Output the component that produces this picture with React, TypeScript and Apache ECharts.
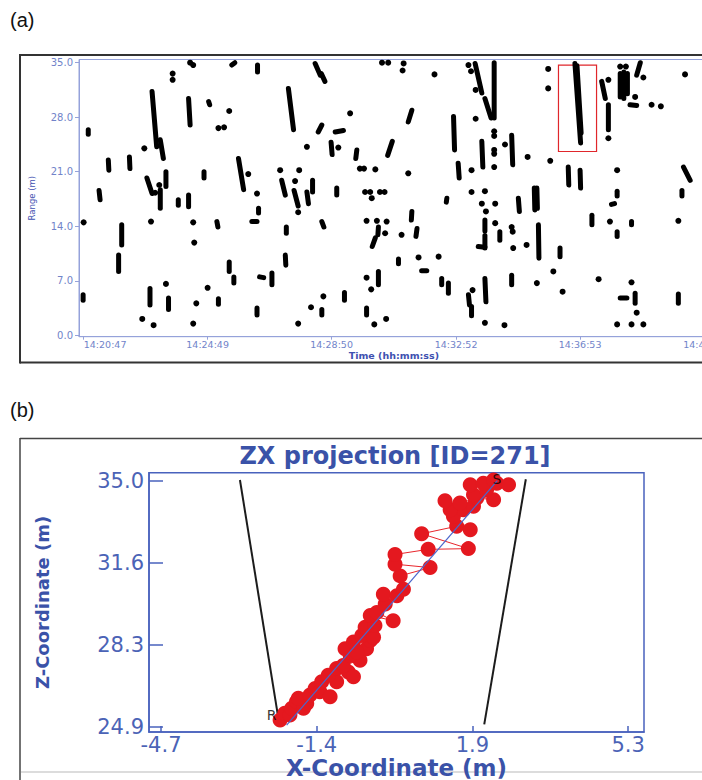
import React, { useEffect, useRef } from 'react';
import * as echarts from 'echarts';

// ---------- (a) Range vs time ----------
const timeTickValues = [0, 242, 483, 725, 966, 1208]; // seconds after 14:20:47
const timeTickLabels = ['14:20:47', '14:24:49', '14:28:50', '14:32:52', '14:36:53', '14:40:55'];
const rangeTickValues = [0, 7, 14, 21, 28, 35];

// streaks: [t1 (s), range1 (m), t2 (s), range2 (m)]
const streaks: number[][] = [
  [0, 5.2, 0, 4.5], [10, 26.4, 10, 25.8], [31, 18.6, 33, 17.4], [49, 22.5, 50, 21.2],
  [75, 14.2, 75, 11.6], [69, 10.3, 69, 8.2], [90, 22.9, 91, 21.4], [130, 6.0, 130, 3.9],
  [124, 20.2, 134, 18.2], [134, 31.3, 143, 24.2], [150, 25.1, 156, 22.7], [150, 18.7, 150, 16.3],
  [161, 21.0, 161, 19.1], [166, 4.8, 166, 3.3], [185, 17.4, 185, 16.7], [205, 18.0, 205, 16.5],
  [205, 30.4, 208, 27.0], [235, 21.0, 235, 20.2], [244, 30.0, 246, 29.6], [260, 14.6, 262, 13.9],
  [263, 4.7, 263, 4.0], [284, 9.4, 284, 8.2], [293, 7.5, 293, 6.7], [302, 22.7, 312, 18.7],
  [339, 34.7, 339, 33.8], [451, 34.9, 461, 33.4], [463, 33.6, 470, 32.6], [399, 31.7, 409, 26.4],
  [464, 27.0, 457, 26.1], [490, 26.1, 506, 26.3], [482, 24.8, 484, 23.2], [532, 23.8, 530, 22.7],
  [601, 24.9, 592, 23.1], [386, 19.9, 393, 18.0], [410, 18.6, 418, 16.6], [435, 18.4, 438, 16.9],
  [446, 19.9, 446, 18.4], [493, 18.9, 493, 18.0], [341, 16.3, 341, 15.7], [328, 14.6, 338, 14.6],
  [395, 13.9, 395, 13.1], [464, 14.6, 468, 13.9], [574, 13.9, 573, 12.9], [568, 12.5, 562, 11.4],
  [393, 10.3, 394, 9.0], [343, 7.5, 351, 7.4], [367, 8.0, 367, 6.5], [574, 8.2, 574, 6.5],
  [508, 5.5, 508, 4.5], [464, 3.3, 464, 2.6], [338, 3.5, 338, 2.6], [551, 3.5, 551, 2.6],
  [762, 34.9, 775, 31.1], [781, 30.4, 793, 27.9], [799, 35.0, 799, 27.9], [639, 28.9, 632, 27.4],
  [720, 28.1, 722, 23.8], [775, 24.9, 777, 21.6], [833, 25.7, 835, 21.9], [729, 22.1, 731, 20.2],
  [707, 17.6, 706, 17.1], [846, 17.6, 848, 15.9], [877, 18.9, 878, 16.1], [882, 18.9, 883, 16.3],
  [639, 15.9, 638, 14.8], [649, 13.7, 647, 12.7], [781, 14.8, 781, 13.4], [781, 12.8, 781, 11.2],
  [810, 13.3, 810, 12.2], [768, 11.4, 781, 11.3], [885, 14.2, 886, 9.9], [613, 9.8, 613, 9.2],
  [658, 8.3, 668, 8.3], [697, 7.3, 697, 6.5], [710, 6.7, 710, 5.4], [781, 7.3, 783, 4.3],
  [833, 7.7, 833, 6.5], [749, 5.2, 751, 3.9], [755, 3.7, 755, 2.5], [956, 34.9, 967, 24.7],
  [960, 34.6, 968, 26.0], [1008, 32.6, 1015, 30.4], [1021, 29.6, 1021, 26.4], [1044, 33.6, 1044, 30.6],
  [1051, 33.8, 1051, 30.4], [1058, 33.6, 1058, 31.0], [1083, 35.0, 1076, 33.4], [1063, 29.6, 1076, 29.5],
  [943, 21.6, 944, 19.3], [966, 21.2, 967, 18.9], [1167, 21.6, 1180, 19.9], [1164, 18.6, 1164, 17.9],
  [1027, 16.8, 1033, 16.9], [989, 15.4, 989, 14.2], [1066, 14.6, 1066, 14.2], [1038, 13.3, 1038, 12.7],
  [927, 11.2, 927, 10.1], [1044, 4.8, 1057, 4.8], [1073, 5.4, 1073, 4.1], [1157, 5.3, 1157, 4.1],
  [1038, 18.5, 1038, 17.9], [289, 34.7, 295, 35.0],
];

// isolated detections: [t (s), range (m)]
const dots: number[][] = [
  [1, 14.5], [115, 2.1], [119, 24.0], [140, 18.3], [132, 14.6], [137, 1.3], [148, 19.3], [161, 6.6],
  [174, 33.6], [174, 32.8], [208, 35.0], [214, 34.7], [214, 14.5], [216, 11.9], [220, 4.1], [214, 1.5],
  [242, 6.1], [263, 26.6], [274, 26.7], [284, 28.8], [321, 20.7], [519, 28.5], [435, 24.2],
  [496, 24.1], [383, 21.2], [420, 21.2], [538, 21.4], [546, 21.4], [568, 21.3], [338, 18.2], [412, 19.8],
  [548, 18.4], [558, 18.4], [577, 18.4], [586, 18.4], [561, 17.6], [418, 15.8], [551, 14.7], [571, 14.7],
  [590, 14.6], [587, 13.1], [551, 7.4], [560, 5.9], [467, 5.0], [443, 3.6], [418, 1.5], [566, 1.4],
  [589, 2.1], [581, 35.0], [593, 35.0], [623, 34.9], [621, 34.0], [683, 33.5], [749, 34.7], [754, 33.9],
  [763, 31.5], [799, 26.2], [799, 25.6], [799, 23.8], [799, 23.3], [799, 21.6], [763, 27.8], [820, 24.5],
  [864, 22.9], [632, 20.8], [755, 21.2], [755, 18.4], [781, 18.5], [775, 16.9], [801, 16.9], [783, 15.9],
  [619, 12.9], [801, 14.4], [833, 13.9], [835, 13.3], [836, 11.2], [862, 11.6], [652, 10.0], [691, 10.1],
  [882, 6.7], [757, 5.8], [781, 1.6], [819, 1.3], [904, 34.2], [904, 31.7], [1021, 32.8], [1021, 25.3],
  [1044, 34.5], [1055, 34.5], [1089, 33.1], [1073, 30.6], [1105, 29.6], [1123, 29.4], [1170, 33.5],
  [908, 22.4], [1038, 21.2], [1024, 14.6], [1157, 14.7], [914, 8.2], [1002, 7.2], [1066, 6.8], [932, 5.6],
  [1076, 2.9], [1038, 1.4], [1066, 1.4], [1089, 1.4],
];

// highlighted track box: [t, range] corners
const boxStart = [924, 34.7];
const boxEnd = [998, 23.6];

// ---------- (b) ZX projection ----------
const xTickValues = [-4.7, -1.367, 1.967, 5.3];
const xTickLabels = ['-4.7', '-1.4', '1.9', '5.3'];
const zTickValues = [24.9, 28.267, 31.633, 35.0];
const zTickLabels = ['24.9', '28.3', '31.6', '35.0'];

const trackX = [
  -2.15, -2.05, -1.94, -1.90, -1.80, -1.58, -1.65, -1.76, -1.51, -1.40, -1.30, -1.08, -1.26, -0.94,
  -1.12, -0.94, -0.69, -0.58, -0.80, -0.44, -0.65, -0.76, -0.30, -0.51, -0.58, -0.22, -0.40, -0.15,
  -0.33, -0.12, -0.22, 0.27, -0.08, 0.10, 0.06, 0.35, 0.49, 0.42, 1.06, 0.31, 0.31, 1.02, 1.88, 0.88,
  1.63, 1.92, 1.56, 1.77, 1.49, 1.38, 1.99, 1.70, 2.06, 2.42, 1.99, 2.27, 1.92, 2.20, 2.49, 2.74, 2.42,
];
const trackZ = [
  25.17, 25.44, 25.37, 25.65, 25.92, 25.85, 25.65, 26.06, 26.19, 26.46, 26.33, 26.12, 26.74, 26.74,
  27.01, 27.28, 27.14, 26.94, 27.41, 27.62, 27.82, 28.10, 28.10, 27.96, 28.37, 28.43, 28.64, 28.57,
  28.98, 29.05, 29.46, 29.25, 29.59, 29.93, 30.34, 30.27, 30.54, 31.09, 31.43, 31.57, 31.97, 32.18,
  32.21, 32.82, 33.13, 32.99, 33.54, 33.81, 33.81, 34.18, 33.95, 34.08, 34.29, 34.22, 34.42, 34.63,
  34.83, 34.90, 34.90, 34.83, 35.03,
];
const leftBound = [[-3.01, 35.03], [-2.17, 25.03]];
const rightBound = [[3.11, 35.06], [2.22, 24.99]];
const fitLine = [[-2.01, 24.96], [2.50, 35.0]];
const endLabels = [
  { name: 'R', value: [-2.33, 25.37] },
  { name: 'S', value: [2.49, 35.08] },
];

const nearestLabel = (v: number, vals: number[], labels: string[]) => {
  let best = 0;
  for (let i = 1; i < vals.length; i++) {
    if (Math.abs(vals[i] - v) < Math.abs(vals[best] - v)) best = i;
  }
  return labels[best];
};

const FONT = '"DejaVu Sans", Verdana, sans-serif';

export default function App() {
  const ref = useRef<HTMLDivElement>(null);
  useEffect(() => {
    if (!ref.current) return;
    const chart = echarts.init(ref.current, undefined, { renderer: 'svg' });
    const topAxisColor = '#95a2da';
    const topLabelColor = '#7183c9';
    const botAxisColor = '#4962bd';
    const botLabelColor = '#4b63b6';
    const option: any = {
      animation: false,
      backgroundColor: '#fff',
      title: {
        text: 'ZX projection [ID=271]',
        left: 395,
        top: 444,
        padding: 0,
        textAlign: 'center',
        textStyle: { fontFamily: FONT, fontSize: 24, fontWeight: 'bold', color: '#3a52a8', lineHeight: 24 },
      },
      grid: [
        { left: 79, top: 59.5, width: 629.7, height: 277.2, show: true, borderColor: topAxisColor, borderWidth: 1 },
        { left: 149, top: 472.7, width: 495, height: 261.3, show: true, borderColor: botAxisColor, borderWidth: 1.5 },
      ],
      xAxis: [
        {
          type: 'value', gridIndex: 0, min: -8, max: 1216,
          axisLine: { show: true, onZero: false, lineStyle: { color: topAxisColor, width: 1 } },
          axisTick: { show: true, length: 3, customValues: timeTickValues, lineStyle: { color: topAxisColor } },
          axisLabel: {
            customValues: timeTickValues, margin: 3, fontSize: 9.5, fontFamily: FONT, color: topLabelColor,
            formatter: (v: number) => {
              const s = nearestLabel(v, timeTickValues, timeTickLabels);
              return Math.abs(v - timeTickValues[0]) < 1 ? '{first|' + s + '}' : s;
            },
            rich: { first: { padding: [0, 0, 0, 44], fontSize: 9.5, fontFamily: FONT, color: topLabelColor } },
          },
          splitLine: { show: false },
          name: 'Time (hh:mm:ss)', nameLocation: 'middle', nameGap: 11,
          nameTextStyle: { fontFamily: FONT, fontSize: 9.5, fontWeight: 'bold', color: '#3e50b0' },
        },
        {
          type: 'value', gridIndex: 1, min: -4.957, max: 5.64,
          axisLine: { show: true, onZero: false, lineStyle: { color: botAxisColor, width: 1.5 } },
          axisTick: { show: true, inside: true, length: 6, customValues: xTickValues, lineStyle: { color: botAxisColor, width: 1.5 } },
          axisLabel: {
            customValues: xTickValues, margin: 2, fontSize: 21, fontFamily: FONT, color: botLabelColor,
            formatter: (v: number) => nearestLabel(v, xTickValues, xTickLabels),
          },
          splitLine: { show: false },
          name: 'X-Coordinate (m)', nameLocation: 'middle', nameGap: 20,
          nameTextStyle: { fontFamily: FONT, fontSize: 23, fontWeight: 'bold', color: '#3a52a8' },
        },
      ],
      yAxis: [
        {
          type: 'value', gridIndex: 0, min: -0.18, max: 35.41,
          axisLine: { show: true, onZero: false, lineStyle: { color: topAxisColor, width: 1 } },
          axisTick: { show: true, length: 4, customValues: rangeTickValues, lineStyle: { color: topAxisColor } },
          axisLabel: {
            customValues: rangeTickValues, margin: 6, fontSize: 10, fontFamily: FONT, color: topLabelColor,
            formatter: (v: number) => v.toFixed(1),
          },
          splitLine: { show: false },
          name: 'Range (m)', nameLocation: 'middle', nameGap: 43,
          nameTextStyle: { fontFamily: FONT, fontSize: 8.5, color: '#3e50b0' },
        },
        {
          type: 'value', gridIndex: 1, min: 24.67, max: 35.33,
          axisLine: { show: true, onZero: false, lineStyle: { color: botAxisColor, width: 1.5 } },
          axisTick: { show: true, inside: true, length: 14, customValues: zTickValues, lineStyle: { color: botAxisColor, width: 1.5 } },
          axisLabel: {
            customValues: zTickValues, margin: 5, fontSize: 21, fontFamily: FONT, color: botLabelColor,
            formatter: (v: number) => nearestLabel(v, zTickValues, zTickLabels),
          },
          splitLine: { show: false },
          name: 'Z-Coordinate (m)', nameLocation: 'middle', nameGap: 98,
          nameTextStyle: { fontFamily: FONT, fontSize: 18, fontWeight: 'bold', color: '#3a52a8' },
        },
      ],
      series: [
        {
          type: 'custom', xAxisIndex: 0, yAxisIndex: 0, data: streaks,
          encode: { x: [0, 2], y: [1, 3] },
          renderItem: (params: any, api: any) => {
            const p1 = api.coord([api.value(0), api.value(1)]);
            const p2 = api.coord([api.value(2), api.value(3)]);
            return {
              type: 'line',
              shape: { x1: p1[0], y1: p1[1], x2: p2[0], y2: p2[1] },
              style: { stroke: '#000', lineWidth: 5, lineCap: 'round' },
            };
          },
          silent: true,
        },
        {
          type: 'scatter', xAxisIndex: 0, yAxisIndex: 0, data: dots, symbolSize: 6,
          itemStyle: { color: '#000', opacity: 1 }, silent: true,
          markArea: {
            silent: true,
            itemStyle: { color: 'rgba(0,0,0,0)', borderColor: '#e0262b', borderWidth: 1.2 },
            data: [[{ coord: boxStart }, { coord: boxEnd }]],
          },
        },
        {
          type: 'line', xAxisIndex: 1, yAxisIndex: 1, data: leftBound, symbol: 'none',
          lineStyle: { color: '#1c1c1c', width: 2 }, silent: true,
        },
        {
          type: 'line', xAxisIndex: 1, yAxisIndex: 1, data: rightBound, symbol: 'none',
          lineStyle: { color: '#1c1c1c', width: 2 }, silent: true,
        },
        {
          type: 'line', xAxisIndex: 1, yAxisIndex: 1,
          data: trackX.map((x, i) => [x, trackZ[i]]),
          symbol: 'circle', symbolSize: 15, showAllSymbol: true,
          itemStyle: { color: '#e4181f', opacity: 1 },
          lineStyle: { color: '#e8262c', width: 1 },
          silent: true, z: 3,
        },
        {
          type: 'line', xAxisIndex: 1, yAxisIndex: 1, data: fitLine, symbol: 'none',
          lineStyle: { color: '#4a66cc', width: 1.2 }, silent: true, z: 4,
        },
        {
          type: 'scatter', xAxisIndex: 1, yAxisIndex: 1, data: endLabels, symbolSize: 1,
          itemStyle: { color: 'rgba(0,0,0,0)' },
          label: { show: true, position: 'inside', formatter: '{b}', fontFamily: FONT, fontSize: 14, color: '#000' },
          silent: true, z: 5,
        },
      ],
      graphic: [
        { type: 'text', x: 10, y: 20, silent: true, style: { text: '(a)', font: '20px "Liberation Sans", Arial, sans-serif', fill: '#111', textVerticalAlign: 'middle' } },
        { type: 'text', x: 10, y: 410, silent: true, style: { text: '(b)', font: '20px "Liberation Sans", Arial, sans-serif', fill: '#111', textVerticalAlign: 'middle' } },
        { type: 'line', silent: true, shape: { x1: 20, y1: 55, x2: 760, y2: 55 }, style: { stroke: '#333', lineWidth: 2 } },
        { type: 'line', silent: true, shape: { x1: 20, y1: 54, x2: 20, y2: 363.5 }, style: { stroke: '#333', lineWidth: 2 } },
        { type: 'line', silent: true, shape: { x1: 20, y1: 362.5, x2: 760, y2: 362.5 }, style: { stroke: '#333', lineWidth: 2 } },
        { type: 'line', silent: true, shape: { x1: 20, y1: 438.5, x2: 760, y2: 438.5 }, style: { stroke: '#444', lineWidth: 1.5 } },
        { type: 'line', silent: true, shape: { x1: 20, y1: 438, x2: 20, y2: 780 }, style: { stroke: '#444', lineWidth: 1.5 } },
        { type: 'line', silent: true, shape: { x1: 21, y1: 772, x2: 760, y2: 772 }, style: { stroke: '#d0d0d0', lineWidth: 1.5 } },
      ],
    };
    chart.setOption(option);
    return () => chart.dispose();
  }, []);
  return (
    <div style={{ position: 'absolute', left: 0, top: 0, width: 702, height: 780, overflow: 'hidden', background: '#fff' }}>
      <div ref={ref} style={{ width: 760, height: 780 }} />
    </div>
  );
}
